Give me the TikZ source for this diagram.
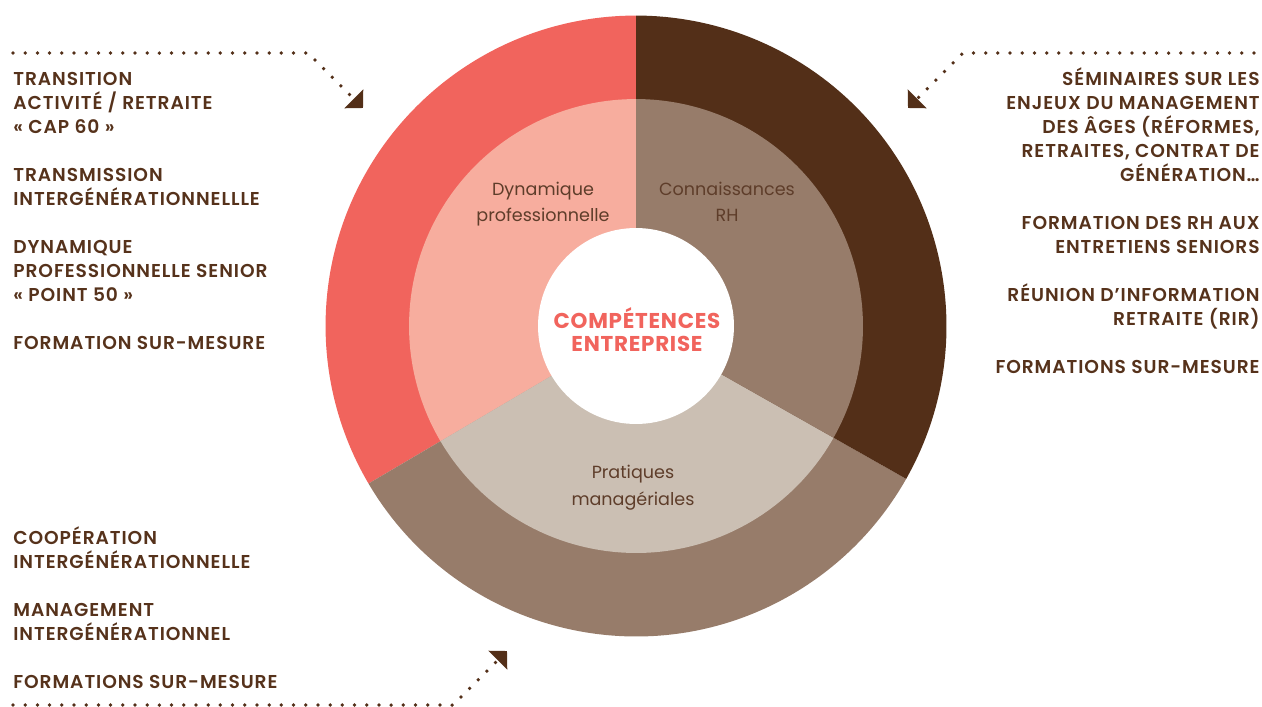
\documentclass[tikz,border=0pt]{standalone}
\usepackage{fontspec}
\setmainfont{Poppins}
\newfontfamily\medfont{Poppins SemiBold}[LetterSpace=5]
\newfontfamily\corefont{Poppins Bold}[LetterSpace=3.5]
\usepackage{tikz}
\usetikzlibrary{arrows.meta}

\definecolor{ringred}{HTML}{F1645D}
\definecolor{ringdark}{HTML}{532F18}
\definecolor{ringmid}{HTML}{977C6A}
\definecolor{ringpink}{HTML}{F7AD9E}
\definecolor{ringbeige}{HTML}{CBBFB3}
\definecolor{txtbrown}{HTML}{56321B}
\definecolor{txtinner}{HTML}{5E3D2A}

\tikzset{
  offer/.style={inner sep=0pt, text=txtbrown, font=\medfont\fontsize{10.6}{12}\selectfont},
  offerleft/.style={offer, anchor=base west},
  offerright/.style={offer, anchor=base east},
  sector/.style={inner sep=0pt, text=txtinner, font=\fontsize{10}{12}\selectfont, anchor=base},
  core/.style={inner sep=0pt, text=ringred, font=\corefont\fontsize{12.2}{14}\selectfont, anchor=base},
  dotline/.style={line width=0.075cm, dash pattern=on 0cm off 0.244cm, line cap=round, draw=ringdark,
    -{Triangle[width=0.52cm,length=0.26cm]}}
}

\begin{document}
\begin{tikzpicture}[x=0.02cm,y=0.02cm]
\useasboundingbox (0,0) rectangle (1262,-707);
\coordinate (c) at (636,-326);
% outer ring
\fill[ringred] (c) -- ++(90:6.21cm) arc[start angle=90,end angle=210.5,radius=6.21cm] -- cycle;
\fill[ringmid] (c) -- ++(210.5:6.21cm) arc[start angle=210.5,end angle=330.5,radius=6.21cm] -- cycle;
\fill[ringdark] (c) -- ++(330.5:6.21cm) arc[start angle=330.5,end angle=450,radius=6.21cm] -- cycle;
% inner ring
\fill[ringpink] (c) -- ++(90:4.54cm) arc[start angle=90,end angle=210.5,radius=4.54cm] -- cycle;
\fill[ringbeige] (c) -- ++(210.5:4.54cm) arc[start angle=210.5,end angle=330.5,radius=4.54cm] -- cycle;
\fill[ringmid] (c) -- ++(330.5:4.54cm) arc[start angle=330.5,end angle=450,radius=4.54cm] -- cycle;
\fill[white] (c) circle (1.96cm);

% centre and sector labels
\node[core] (core1) at (637,-328) {COMPÉTENCES};
\node[core] (core2) at (637,-351) {ENTREPRISE};
\node[sector] (dyn1) at (543,-195) {Dynamique};
\node[sector] (dyn2) at (543,-221) {professionnelle};
\node[sector] (rh1) at (727,-195) {Connaissances};
\node[sector] (rh2) at (727,-221) {RH};
\node[sector] (prat1) at (633,-478) {Pratiques};
\node[sector] (prat2) at (633,-505) {managériales};

% left offers
\node[offerleft] (l1) at (13,-85) {TRANSITION};
\node[offerleft] (l2) at (13,-109) {ACTIVITÉ / RETRAITE};
\node[offerleft] (l3) at (13,-133) {« CAP 60 »};
\node[offerleft] (l4) at (13,-181) {TRANSMISSION};
\node[offerleft] (l5) at (13,-205) {INTERGÉNÉRATIONNELLLE};
\node[offerleft] (l6) at (13,-253) {DYNAMIQUE};
\node[offerleft] (l7) at (13,-277) {PROFESSIONNELLE SENIOR};
\node[offerleft] (l8) at (13,-301) {« POINT 50 »};
\node[offerleft] (l9) at (13,-349) {FORMATION SUR-MESURE};

% right offers
\node[offerright] (r1) at (1260,-85) {SÉMINAIRES SUR LES};
\node[offerright] (r2) at (1260,-109) {ENJEUX DU MANAGEMENT};
\node[offerright] (r3) at (1260,-133) {DES ÂGES (RÉFORMES,};
\node[offerright] (r4) at (1260,-157) {RETRAITES, CONTRAT DE};
\node[offerright] (r5) at (1260,-181) {GÉNÉRATION…};
\node[offerright] (r6) at (1260,-229) {FORMATION DES RH AUX};
\node[offerright] (r7) at (1260,-253) {ENTRETIENS SENIORS};
\node[offerright] (r8) at (1260,-301) {RÉUNION D’INFORMATION};
\node[offerright] (r9) at (1260,-325) {RETRAITE (RIR)};
\node[offerright] (r10) at (1260,-373) {FORMATIONS SUR-MESURE};

% bottom offers
\node[offerleft] (b1) at (13,-544) {COOPÉRATION};
\node[offerleft] (b2) at (13,-568) {INTERGÉNÉRATIONNELLE};
\node[offerleft] (b3) at (13,-616) {MANAGEMENT};
\node[offerleft] (b4) at (13,-640) {INTERGÉNÉRATIONNEL};
\node[offerleft] (b5) at (13,-688) {FORMATIONS SUR-MESURE};

% dotted arrows
\coordinate (tls) at (13,-53);
\coordinate (tlb) at (308,-53);
\coordinate (tlt) at (363,-108);
\draw[dotline] (tls) -- (tlb) -- (tlt);
\coordinate (trs) at (1254,-53);
\coordinate (trb) at (963,-53);
\coordinate (trt) at (908,-108);
\draw[dotline] (trs) -- (trb) -- (trt);
\coordinate (bls) at (13,-705);
\coordinate (blb) at (453,-705);
\coordinate (blt) at (507,-651);
\draw[dotline] (bls) -- (blb) -- (blt);
\end{tikzpicture}
\end{document}
